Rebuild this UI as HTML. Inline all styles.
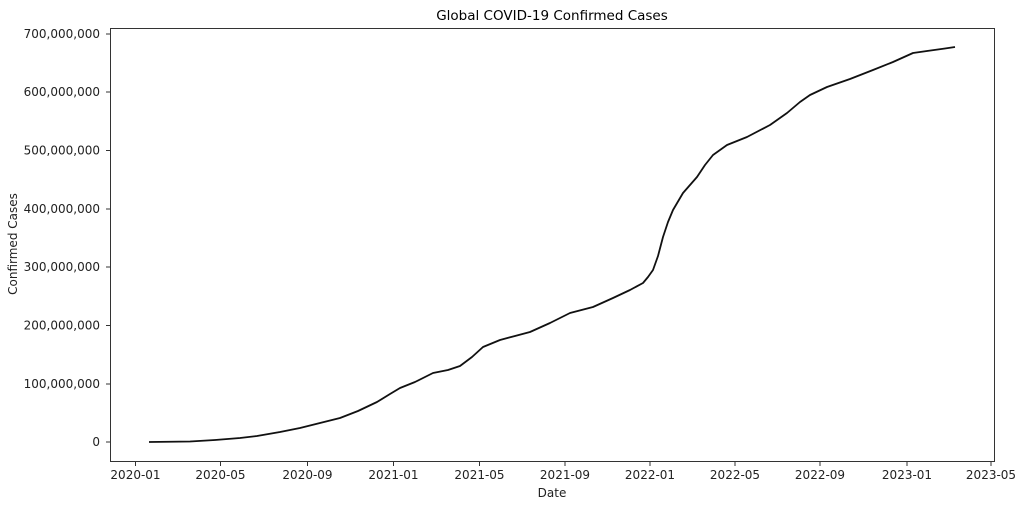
<!DOCTYPE html>
<html><head><meta charset="utf-8"><style>
body{margin:0;background:#fff;}
svg{display:block;font-family:"DejaVu Sans","Liberation Sans",sans-serif;}
</style></head><body>
<svg width="1024" height="507" viewBox="0 0 1024 507" xmlns="http://www.w3.org/2000/svg">
<rect width="1024" height="507" fill="#fff"/>
<text x="552" y="20" font-size="13.5" text-anchor="middle" fill="#000">Global COVID-19 Confirmed Cases</text>
<rect x="110.5" y="28.5" width="884" height="433" fill="none" stroke="#333" stroke-width="1"/>
<g font-size="12" fill="#222" text-anchor="end">
<text x="100" y="446">0</text>
<text x="100" y="388">100,000,000</text>
<text x="100" y="329.5">200,000,000</text>
<text x="100" y="271">300,000,000</text>
<text x="100" y="213">400,000,000</text>
<text x="100" y="154.5">500,000,000</text>
<text x="100" y="96">600,000,000</text>
<text x="100" y="38">700,000,000</text>
</g>
<g stroke="#333" stroke-width="1">
<line x1="106" x2="110" y1="442" y2="442"/><line x1="106" x2="110" y1="384" y2="384"/>
<line x1="106" x2="110" y1="325.5" y2="325.5"/><line x1="106" x2="110" y1="267" y2="267"/>
<line x1="106" x2="110" y1="209" y2="209"/><line x1="106" x2="110" y1="150.5" y2="150.5"/>
<line x1="106" x2="110" y1="92" y2="92"/><line x1="106" x2="110" y1="34" y2="34"/>
<line x1="135.5" x2="135.5" y1="462" y2="466"/><line x1="220.5" x2="220.5" y1="462" y2="466"/>
<line x1="307.5" x2="307.5" y1="462" y2="466"/><line x1="393.5" x2="393.5" y1="462" y2="466"/>
<line x1="479.5" x2="479.5" y1="462" y2="466"/><line x1="565" x2="565" y1="462" y2="466"/>
<line x1="650" x2="650" y1="462" y2="466"/><line x1="735" x2="735" y1="462" y2="466"/>
<line x1="820" x2="820" y1="462" y2="466"/><line x1="907" x2="907" y1="462" y2="466"/>
<line x1="991" x2="991" y1="462" y2="466"/>
</g>
<g font-size="12" fill="#222" text-anchor="middle">
<text x="135.5" y="479">2020-01</text><text x="220.5" y="479">2020-05</text>
<text x="307.5" y="479">2020-09</text><text x="393.5" y="479">2021-01</text>
<text x="479.5" y="479">2021-05</text><text x="565" y="479">2021-09</text>
<text x="650" y="479">2022-01</text><text x="735" y="479">2022-05</text>
<text x="820" y="479">2022-09</text><text x="907" y="479">2023-01</text>
<text x="991" y="479">2023-05</text>
</g>
<text x="552" y="497" font-size="12" text-anchor="middle" fill="#222">Date</text>
<text transform="translate(17,244) rotate(-90)" font-size="12" text-anchor="middle" fill="#222">Confirmed Cases</text>
<polyline fill="none" stroke="#111" stroke-width="1.8" stroke-linejoin="round" points="149,442 190,441.5 215,440 240,438 257,436 280,432 300,428 320,423 340,418 358,411 377,402 390,394 400,388 415,382 433,373 448,370 460,366 472,357 483,347 500,340 515,336 530,332 550,323 570,313 593,307 613,298 630,290 643,283 648,277 653,270 658,256 663,237 668,222 673,210 683,193 697,177 705,165 713,155 727,145 747,137 770,125 787,113 800,102 810,95 827,87 850,79 873,70 893,62 913,53 927,51 945,48.5 955,47"/>
</svg>
</body></html>
